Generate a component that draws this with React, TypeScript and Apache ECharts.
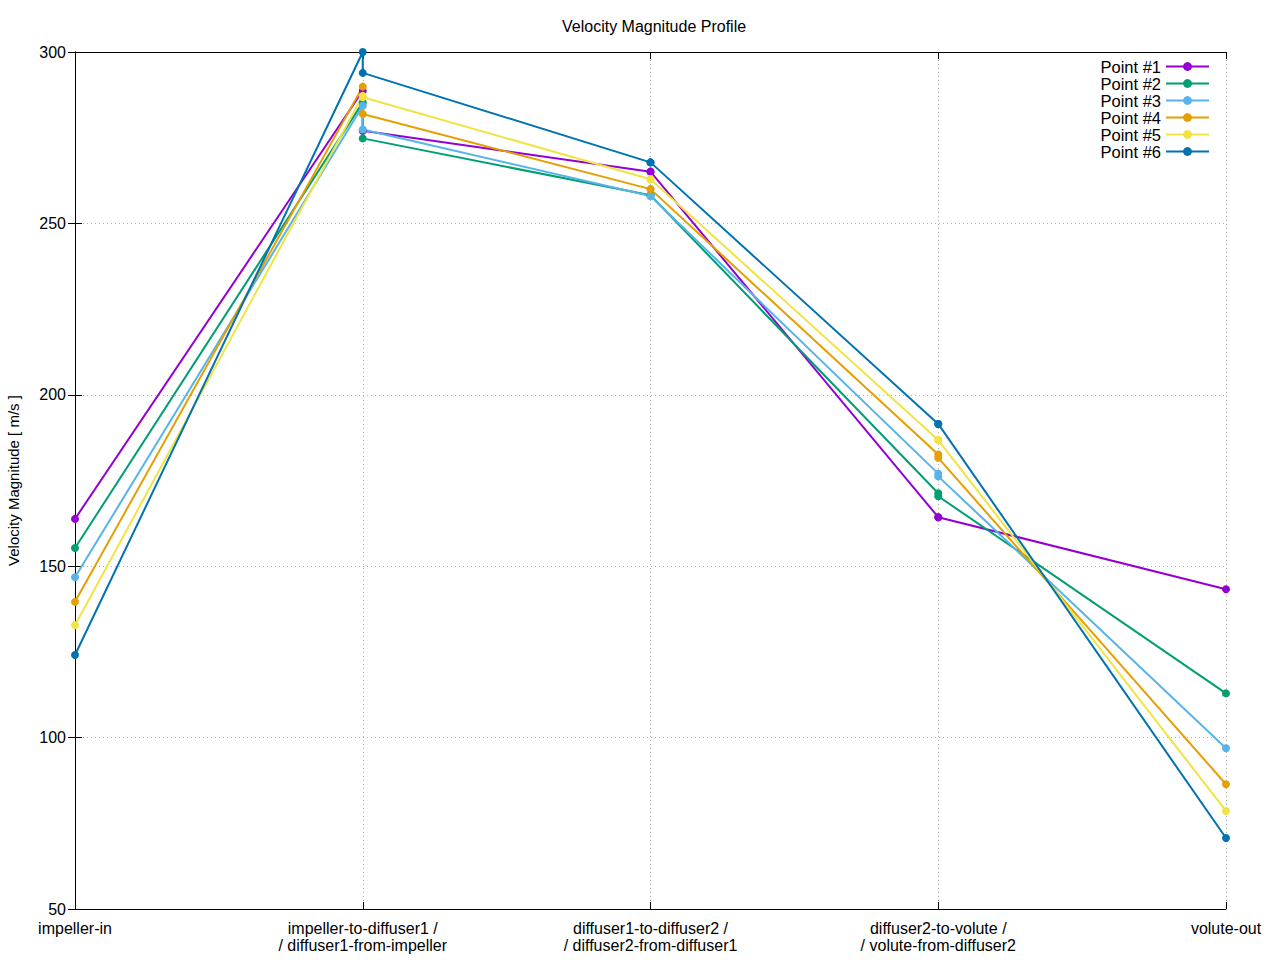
import React, { useEffect, useRef } from "react";
import * as echarts from "echarts";

const stationLabels = [
  "impeller-in",
  "impeller-to-diffuser1 /\n/ diffuser1-from-impeller",
  "diffuser1-to-diffuser2 /\n/ diffuser2-from-diffuser1",
  "diffuser2-to-volute /\n/ volute-from-diffuser2",
  "volute-out",
];

// x position of every sample (interface stations appear twice: arriving / departing side)
const xPositions = [0, 1, 1, 2, 2, 3, 3, 4];

const seriesNames = ["Point #1", "Point #2", "Point #3", "Point #4", "Point #5", "Point #6"];

const point1 = [163.8, 288.7, 277.0, 265.1, 265.1, 164.3, 164.3, 143.3];
const point2 = [155.3, 285.3, 274.8, 258.2, 258.2, 171.3, 170.4, 112.9];
const point3 = [146.8, 284.3, 277.4, 258.0, 258.0, 177.0, 176.2, 96.9];
const point4 = [139.6, 289.9, 281.9, 260.0, 260.0, 182.6, 181.6, 86.4];
const point5 = [132.8, 287.2, 286.8, 262.9, 262.9, 186.8, 186.8, 78.6];
const point6 = [124.1, 300.0, 293.9, 267.8, 267.8, 191.5, 191.5, 70.7];

const seriesValues = [point1, point2, point3, point4, point5, point6];
const seriesColors = ["#9400d3", "#009e73", "#56b4e9", "#e69f00", "#f0e442", "#0072b2"];

const FONT = "Liberation Sans, Arial, sans-serif";

export default function App() {
  const ref = useRef<HTMLDivElement>(null);

  useEffect(() => {
    if (!ref.current) return;
    const chart = echarts.init(ref.current, undefined, { renderer: "svg" });
    const gridLine = { show: true, lineStyle: { color: "#b0b0b0", width: 1, type: [1, 3] as any } };
    const option: any = {
      animation: false,
      backgroundColor: "#ffffff",
      textStyle: { fontFamily: FONT, color: "#000" },
      title: {
        text: "Velocity Magnitude Profile",
        left: 557,
        top: 13,
        textStyle: { fontFamily: FONT, fontSize: 16, fontWeight: "normal", color: "#000" },
      },
      legend: {
        orient: "vertical",
        right: 65,
        top: 53,
        align: "right",
        itemWidth: 43,
        itemHeight: 11,
        itemGap: 0,
        data: seriesNames,
        textStyle: { fontFamily: FONT, fontSize: 16.5, color: "#000", lineHeight: 17, padding: [0, 0, 0, 0] },
      },
      grid: { left: 75, right: 54, top: 52, bottom: 51, containLabel: false, outerBoundsMode: "none" },
      xAxis: [
        {
          type: "value",
          min: 0,
          max: 4,
          interval: 1,
          position: "bottom",
          axisLine: { show: true, lineStyle: { color: "#000", width: 1 } },
          axisTick: { show: true, inside: true, length: 7, lineStyle: { color: "#000" } },
          splitLine: gridLine,
          axisLabel: {
            fontFamily: FONT,
            fontSize: 16,
            color: "#000",
            margin: 11,
            lineHeight: 17,
            formatter: (v: number) => stationLabels[Math.round(v)] ?? "",
          },
        },
        {
          type: "value",
          min: 0,
          max: 4,
          interval: 1,
          position: "top",
          axisLine: { show: true, lineStyle: { color: "#000", width: 1 } },
          axisTick: { show: true, inside: true, length: 7, lineStyle: { color: "#000" } },
          splitLine: { show: false },
          axisLabel: { show: false },
        },
      ],
      yAxis: [
        {
          type: "value",
          min: 50,
          max: 300,
          interval: 50,
          position: "left",
          name: "Velocity Magnitude [ m/s ]",
          nameLocation: "middle",
          nameGap: 54,
          nameTextStyle: { fontFamily: FONT, fontSize: 15, color: "#000" },
          axisLine: { show: true, lineStyle: { color: "#000", width: 1 } },
          axisTick: { show: true, inside: true, length: 7, lineStyle: { color: "#000" } },
          splitLine: gridLine,
          axisLabel: { fontFamily: FONT, fontSize: 16, color: "#000", margin: 9 },
        },
        {
          type: "value",
          min: 50,
          max: 300,
          interval: 50,
          position: "right",
          axisLine: { show: true, lineStyle: { color: "#000", width: 1 } },
          axisTick: { show: true, inside: true, length: 7, lineStyle: { color: "#000" } },
          splitLine: { show: false },
          axisLabel: { show: false },
        },
      ],
      series: seriesNames.map((name, i) => ({
        name,
        type: "line",
        xAxisIndex: 0,
        yAxisIndex: 0,
        clip: false,
        symbol: "circle",
        symbolSize: 8,
        showSymbol: true,
        color: seriesColors[i],
        lineStyle: { width: 2, color: seriesColors[i] },
        itemStyle: { color: seriesColors[i] },
        data: xPositions.map((x, j) => [x, seriesValues[i][j]]),
      })),
    };
    chart.setOption(option);
    return () => chart.dispose();
  }, []);

  return (
    <div
      ref={ref}
      style={{ position: "fixed", left: 0, top: 0, width: 1280, height: 960 }}
    />
  );
}
